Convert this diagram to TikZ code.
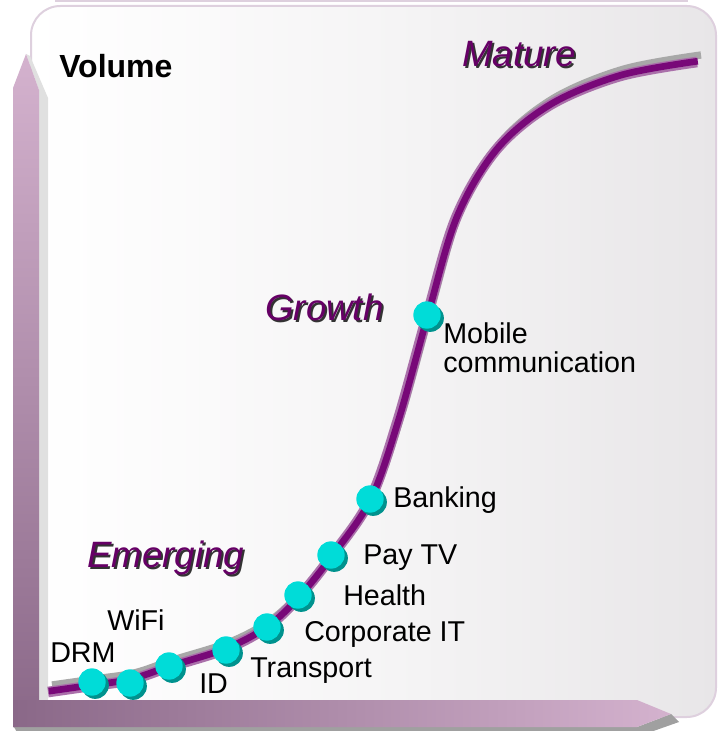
\documentclass[tikz,border=0pt]{standalone}
\usepackage{fontspec}
\setmainfont{Liberation Sans}
\usetikzlibrary{shadows}
\definecolor{panelborder}{RGB}{222,208,222}
\definecolor{panelright}{RGB}{232,230,232}
\definecolor{axislight}{RGB}{212,178,206}
\definecolor{axisdark}{RGB}{138,104,136}
\definecolor{axisside}{RGB}{224,224,224}
\definecolor{axisbottom}{RGB}{160,160,160}
\definecolor{curvedark}{RGB}{120,8,120}
\definecolor{curvelight}{RGB}{170,112,170}
\definecolor{curveshade}{RGB}{168,168,168}
\definecolor{stagepurple}{RGB}{102,0,102}
\definecolor{dotfill}{RGB}{0,220,216}
\definecolor{dotdark}{RGB}{0,146,142}
\begin{document}
\begin{tikzpicture}[x=0.75pt,y=-0.75pt,
  lbl/.style={anchor=base west,inner sep=0,font=\fontsize{21.5}{24}\selectfont},
  stage/.style={anchor=base west,inner sep=0,font=\fontsize{27.5}{30}\selectfont\itshape,text=stagepurple},
  stageshade/.style={stage,text=black!80},
  dot/.style={circle,fill=dotfill,minimum size=20.5pt,inner sep=0,
    general shadow={shadow xshift=2.4pt,shadow yshift=-2.4pt,fill=dotdark}},
]
\useasboundingbox (0,0) rectangle (717,731);

% backdrop panel
\draw[panelborder,line width=2.2pt] (55,0.5) -- (688,0.5);
\shade[rounded corners=22pt,left color=white,right color=panelright,middle color=white!60!panelright]
  (31,6) rectangle (716,717);
\draw[rounded corners=22pt,panelborder,line width=1.5pt] (31,6) rectangle (716,717);

% vertical axis (front face and side face)
\fill[axisside] (26,54) -- (30,56) -- (48,98) -- (48,700) -- (39,700) -- (39,90) -- cycle;
\shade[top color=axislight,bottom color=axisdark]
  (13,727) -- (13,88) -- (26,54) -- (39,90) -- (39,727) -- cycle;

% horizontal axis (front face and lower face)
\fill[axisbottom] (14,727) -- (637,727) -- (671,714) -- (679,722) -- (645,734) -- (18,734) -- cycle;
\shade[left color=axisdark,right color=axislight]
  (13,700) -- (637,700) -- (671,714) -- (637,727) -- (13,727) -- cycle;

% growth curve: raised edge, outline and core
\def\scurve{plot[smooth,tension=0.55] coordinates {(48,692) (90,686) (130,680) (169,667)
  (226,649) (267,627) (298,598) (331,557) (370,500) (398,420) (427,316) (456,218)
  (496,150) (550,105) (620,76) (697,62)}}
\draw[curveshade,line width=5.5pt,shift={(4,-7)}] \scurve;
\draw[curvelight,line width=8pt] \scurve;
\draw[curvedark,line width=5pt,shift={(0.8,-0.8)}] \scurve;

% adoption points
\node[dot] (drm)  at (92,682) {};
\node[dot] (wifi) at (130,683) {};
\node[dot] (id)   at (169,666) {};
\node[dot] (tra)  at (226,650) {};
\node[dot] (cit)  at (267,627) {};
\node[dot] (hea)  at (298,595) {};
\node[dot] (ptv)  at (331,555) {};
\node[dot] (bnk)  at (370,499) {};
\node[dot] (mob)  at (427,315) {};

% point labels
\node[lbl] (tdrm) at (50,662) {DRM};
\node[lbl] (twifi) at (107,630) {WiFi};
\node[lbl] (tid) at (199,693) {ID};
\node[lbl] (ttra) at (250,677) {Transport};
\node[lbl] (tcit) at (304,641) {Corporate IT};
\node[lbl] (thea) at (343,605) {Health};
\node[lbl] (tptv) at (363,564) {Pay TV};
\node[lbl] (tbnk) at (393,507) {Banking};
\node[lbl,align=left,anchor=north west,font=\fontsize{21.5}{21.8}\selectfont] (tmob) at (443,322) {Mobile\\communication};

% axis title
\node[anchor=base west,inner sep=0,font=\fontsize{24}{26}\selectfont\bfseries] (vol) at (59,78) {Volume};

% phase titles with drop shade
\node[stageshade] at (464,69) {Mature};
\node[stage] (mature) at (462,67) {Mature};
\node[stageshade] at (267,322) {Growth};
\node[stage] (growth) at (265,320) {Growth};
\node[stageshade] at (89,569) {Emerging};
\node[stage] (emerging) at (87,567) {Emerging};
\end{tikzpicture}
\end{document}
